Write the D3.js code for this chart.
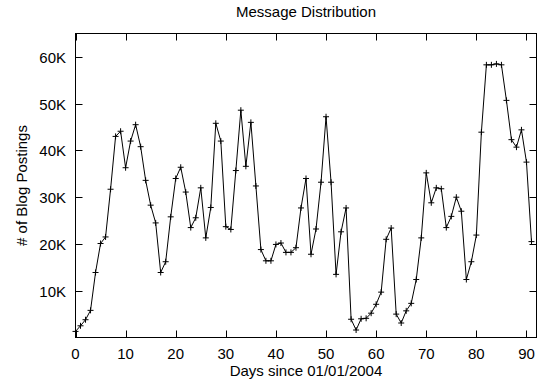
<!DOCTYPE html>
<html>
<head>
<meta charset="utf-8">
<script src="https://cdn.jsdelivr.net/npm/d3@7"></script>
<style>
  html, body { margin: 0; padding: 0; background: #fff; }
  text { font-family: "Liberation Sans", Arial, Helvetica, sans-serif; font-size: 15px; fill: #000; }
</style>
</head>
<body>
<script>
// postings per day, day index = position in the array (0 .. 91)
const postings = [
  1300, 2500, 3800, 5800, 13900, 20100, 21500, 31700, 43000, 44100,
  36300, 42000, 45500, 40800, 33600, 28300, 24500, 13900, 16200, 25800,
  34000, 36400, 31100, 23500, 25600, 32000, 21300, 27800, 45800, 42000,
  23700, 23100, 35700, 48600, 36600, 46000, 32400, 18800, 16400, 16400,
  19900, 20200, 18200, 18200, 19200, 27700, 34000, 17800, 23200, 33200,
  47200, 33200, 13500, 22600, 27700, 3900, 1600, 4000, 4100, 5200,
  7100, 9700, 21000, 23400, 5000, 3100, 5700, 7300, 12400, 21300,
  35200, 28800, 32000, 31800, 23500, 25900, 30000, 27000, 12400, 16200,
  21900, 43900, 58300, 58300, 58500, 58300, 50700, 42300, 40700, 44400,
  37500, 20500
];
const xTicks = [0, 10, 20, 30, 40, 50, 60, 70, 80, 90];
const yTicks = [10000, 20000, 30000, 40000, 50000, 60000];
const yTickLabels = ["10K", "20K", "30K", "40K", "50K", "60K"];

const width = 541, height = 387;
const plotL = 75.5, plotR = 536.5, plotT = 33.5, plotB = 337.5;
const tickLen = 7;

const x = d3.scaleLinear().domain([0, 92]).range([plotL, plotR]);
const y = d3.scaleLinear().domain([0, 65000]).range([plotB, plotT]);

const svg = d3.select("body").append("svg")
  .attr("width", width).attr("height", height);

// ticks, mirrored on all four sides, pointing inward
const tk = svg.append("g").attr("stroke", "#000").attr("stroke-width", 1);
xTicks.forEach(t => {
  const px = Math.round(x(t)) + 0.5;
  tk.append("line").attr("x1", px).attr("x2", px).attr("y1", plotB).attr("y2", plotB - tickLen);
  tk.append("line").attr("x1", px).attr("x2", px).attr("y1", plotT).attr("y2", plotT + tickLen);
});
yTicks.forEach(t => {
  const py = Math.round(y(t)) + 0.5;
  tk.append("line").attr("x1", plotL).attr("x2", plotL + tickLen).attr("y1", py).attr("y2", py);
  tk.append("line").attr("x1", plotR).attr("x2", plotR - tickLen).attr("y1", py).attr("y2", py);
});

svg.append("rect")
  .attr("x", plotL).attr("y", plotT)
  .attr("width", plotR - plotL).attr("height", plotB - plotT)
  .attr("fill", "none").attr("stroke", "#000").attr("stroke-width", 1);

// tick labels
svg.append("g").selectAll("text").data(xTicks).join("text")
  .attr("x", d => x(d)).attr("y", 359)
  .attr("text-anchor", "middle")
  .text(d => d);

svg.append("g").selectAll("text").data(yTicks).join("text")
  .attr("x", 66).attr("y", d => y(d) + 6)
  .attr("text-anchor", "end")
  .text((d, i) => yTickLabels[i]);

// titles
svg.append("text").attr("x", (plotL + plotR) / 2).attr("y", 17)
  .attr("text-anchor", "middle").text("Message Distribution");
svg.append("text").attr("x", (plotL + plotR) / 2).attr("y", 376)
  .attr("text-anchor", "middle").text("Days since 01/01/2004");
svg.append("text")
  .attr("transform", `translate(27, ${(plotT + plotB) / 2}) rotate(-90)`)
  .attr("text-anchor", "middle").text("# of Blog Postings");

// line
const line = d3.line().x((d, i) => x(i)).y(d => y(d));
svg.append("path").datum(postings)
  .attr("d", line)
  .attr("fill", "none").attr("stroke", "#000").attr("stroke-width", 1);

// + markers
const m = 3;
svg.append("g").attr("stroke", "#000").attr("stroke-width", 1)
  .selectAll("path").data(postings).join("path")
  .attr("d", (d, i) => {
    const px = x(i), py = y(d);
    return `M${px - m},${py}H${px + m}M${px},${py - m}V${py + m}`;
  });
</script>
</body>
</html>
